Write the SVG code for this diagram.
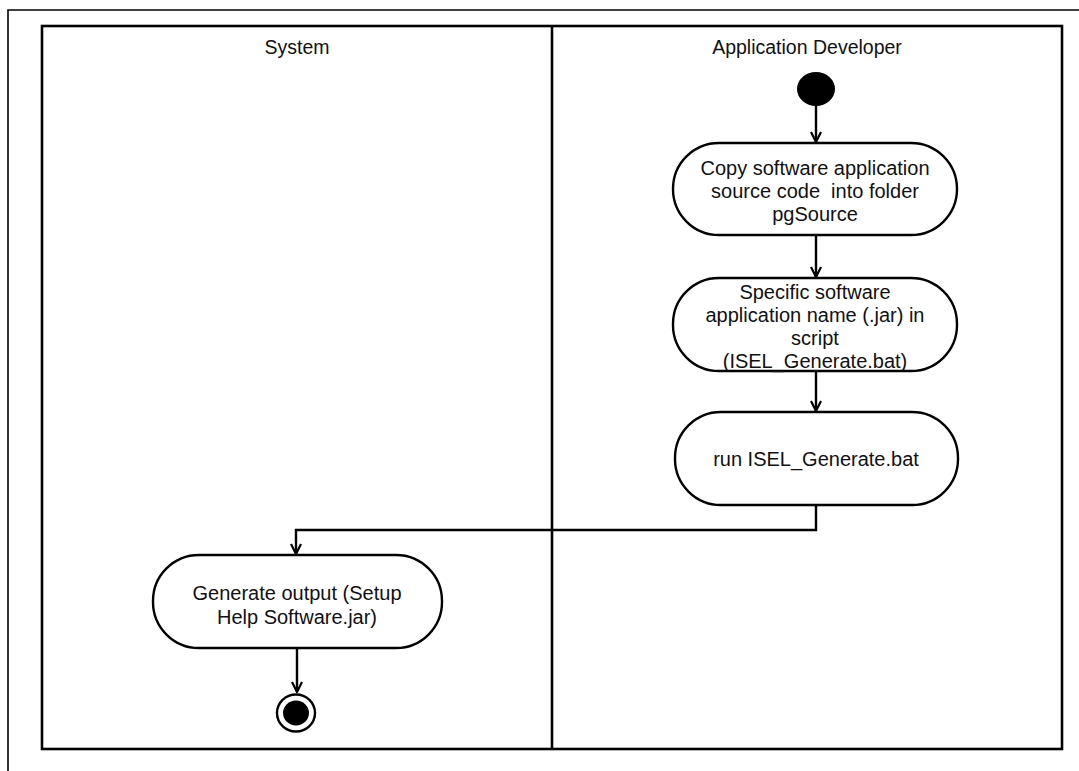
<svg xmlns="http://www.w3.org/2000/svg" width="1079" height="771" viewBox="0 0 1079 771">
  <defs>
    <marker id="open-arrow" viewBox="0 0 12 12" refX="11" refY="6" markerWidth="12" markerHeight="12" markerUnits="userSpaceOnUse" orient="auto">
      <path d="M1,1 L11,6 L1,11" fill="none" stroke="#000" stroke-width="2.2"/>
    </marker>
    <style>
      .frame { fill: none; stroke: #000; stroke-width: 1.6; }
      .lane { fill: none; stroke: #000; stroke-width: 2.6; }
      .action { fill: #fff; stroke: #000; stroke-width: 2.4; }
      .label { font-family: "Liberation Sans", Arial, sans-serif; font-size: 20px; fill: #111; text-anchor: middle; dominant-baseline: central; white-space: pre; }
      .lane-title { font-family: "Liberation Sans", Arial, sans-serif; font-size: 19.5px; fill: #111; text-anchor: middle; dominant-baseline: central; }
      .flow { fill: none; stroke: #000; stroke-width: 2.4; marker-end: url(#open-arrow); }
    </style>
  </defs>
  <rect width="1079" height="771" fill="#fff"/>

  <!-- page frame -->
  <path class="frame" d="M8,771 L8,10 L1079,10"/>

  <!-- swimlanes -->
  <g id="swimlanes">
    <rect class="lane" x="42" y="26" width="1020" height="723"/>
    <line class="lane" x1="552" y1="26" x2="552" y2="749"/>
    <text class="lane-title" x="297" y="47">System</text>
    <text class="lane-title" x="807" y="47">Application Developer</text>
  </g>

  <!-- connectors -->
  <g id="connectors">
    <path class="flow" d="M816,105 L816,142"/>
    <path class="flow" d="M816,235 L816,277"/>
    <path class="flow" d="M816,371 L816,411"/>
    <path class="flow" d="M816,505 L816,530 L296,530 L296,554"/>
    <path class="flow" d="M297,648 L297,692"/>
  </g>

  <!-- initial node -->
  <g id="start">
    <ellipse cx="816" cy="89" rx="19" ry="17" fill="#000"/>
  </g>

  <g id="copy-source">
    <rect class="action" x="673" y="143" width="284" height="92" rx="46" ry="46"/>
    <text class="label" x="815" y="168">Copy software application</text>
    <text class="label" x="815" y="191" xml:space="preserve">source code  into folder</text>
    <text class="label" x="815" y="214">pgSource</text>
  </g>

  <g id="specify-name">
    <rect class="action" x="673" y="278" width="284" height="93" rx="46" ry="46"/>
    <text class="label" x="815" y="292">Specific software</text>
    <text class="label" x="815" y="315">application name (.jar) in</text>
    <text class="label" x="815" y="338">script</text>
    <text class="label" x="815" y="361">(ISEL_Generate.bat)</text>
  </g>

  <g id="run-bat">
    <rect class="action" x="675" y="412" width="283" height="93" rx="46" ry="46"/>
    <text class="label" x="816" y="459">run ISEL_Generate.bat</text>
  </g>

  <g id="generate-output">
    <rect class="action" x="153" y="555" width="289" height="93" rx="46" ry="46"/>
    <text class="label" x="297" y="593">Generate output (Setup</text>
    <text class="label" x="297" y="617">Help Software.jar)</text>
  </g>

  <!-- final node -->
  <g id="end">
    <ellipse cx="296" cy="713" rx="19" ry="18.5" fill="#fff" stroke="#000" stroke-width="2.4"/>
    <ellipse cx="296" cy="713" rx="13" ry="12.5" fill="#000"/>
  </g>
</svg>
